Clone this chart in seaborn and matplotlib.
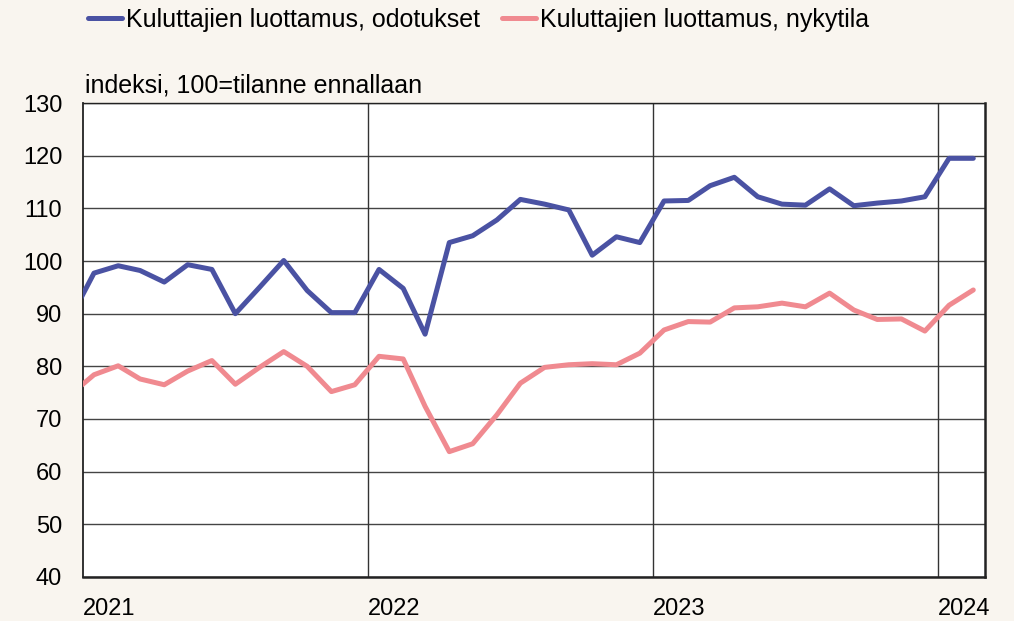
import numpy as np
import pandas as pd
import matplotlib
matplotlib.use("Agg")
import matplotlib.pyplot as plt
import seaborn as sns

# Monthly values Dec 2020 - Feb 2024 (Dec 2020 lies outside the visible range)
months = pd.date_range("2020-12-01", "2024-02-01", freq="MS") + pd.Timedelta(days=14)

odotukset = [88.9,
             97.7, 99.1, 98.2, 96.0, 99.3, 98.4, 90.0, 95.0, 100.1, 94.4, 90.2, 90.2,
             98.4, 94.8, 86.1, 103.5, 104.8, 107.8, 111.7, 110.8, 109.7, 101.1, 104.6, 103.5,
             111.4, 111.5, 114.3, 115.9, 112.2, 110.8, 110.6, 113.7, 110.5, 111.0, 111.4, 112.2,
             119.5, 119.5]
nykytila = [74.5,
            78.4, 80.1, 77.6, 76.5, 79.1, 81.1, 76.6, 79.8, 82.8, 80.0, 75.2, 76.5,
            81.9, 81.4, 72.4, 63.8, 65.3, 70.8, 76.8, 79.8, 80.3, 80.5, 80.3, 82.5,
            86.9, 88.5, 88.4, 91.1, 91.3, 92.0, 91.3, 93.9, 90.7, 88.9, 89.0, 86.7,
            91.6, 94.5]

series_names = ["Kuluttajien luottamus, odotukset", "Kuluttajien luottamus, nykytila"]
colors = ["#4A52A3", "#F08A90"]
years = [2021, 2022, 2023, 2024]
y_ticks = [40, 50, 60, 70, 80, 90, 100, 110, 120, 130]

df = pd.DataFrame({"month": list(months) * 2,
                   "value": odotukset + nykytila,
                   "series": [series_names[0]] * len(months) + [series_names[1]] * len(months)})

sns.set_style("white")
plt.rcParams["font.family"] = ["Liberation Sans", "DejaVu Sans"]
plt.rcParams["text.color"] = "black"

bg = "#F9F5EF"
fig = plt.figure(figsize=(10.14, 6.21), dpi=100, facecolor=bg)
ax = fig.add_axes([0.0819, 0.0709, 0.8895, 0.7632])
ax.set_facecolor("white")

sns.lineplot(data=df, x="month", y="value", hue="series", palette=colors,
             linewidth=3.6, ax=ax, legend=False, zorder=3)

ax.set_xlim(pd.Timestamp("2021-01-01"), pd.Timestamp("2024-03-01"))
ax.set_ylim(40, 130)
ax.set_yticks(y_ticks)
ax.yaxis.grid(True, color="#444444", linewidth=1.0)
ax.set_axisbelow(True)

year_pos = [pd.Timestamp(f"{y}-01-01") for y in years]
for p in year_pos[1:]:
    ax.axvline(p, color="#333333", linewidth=1.0, zorder=1)
ax.set_xticks(year_pos)
ax.set_xticklabels([str(y) for y in years])
for lbl in ax.get_xticklabels():
    lbl.set_horizontalalignment("left")

ax.tick_params(axis="both", length=0, labelsize=17, labelcolor="black")
ax.tick_params(axis="y", pad=15)
ax.tick_params(axis="x", pad=15)
ax.set_xlabel("")
ax.set_ylabel("")

for side in ["left", "bottom", "right", "top"]:
    ax.spines[side].set_visible(True)
    ax.spines[side].set_color("#222222")
ax.spines["left"].set_linewidth(1.3)
ax.spines["bottom"].set_linewidth(1.8)
ax.spines["right"].set_linewidth(1.8)
ax.spines["top"].set_linewidth(1.0)

ax.text(0.002, 1.012, "indeksi, 100=tilanne ennallaan", transform=ax.transAxes,
        fontsize=18, ha="left", va="bottom", color="black")

# legend along the top
handles = [plt.Line2D([], [], color=c, linewidth=3.6) for c in colors]
fig.legend(handles, series_names, loc="upper left", bbox_to_anchor=(0.065, 1.024),
           ncol=2, frameon=False, fontsize=18, handlelength=1.35, handletextpad=0.15,
           columnspacing=0.9, labelcolor="black")

fig.savefig("out.png", dpi=100, facecolor=bg)
